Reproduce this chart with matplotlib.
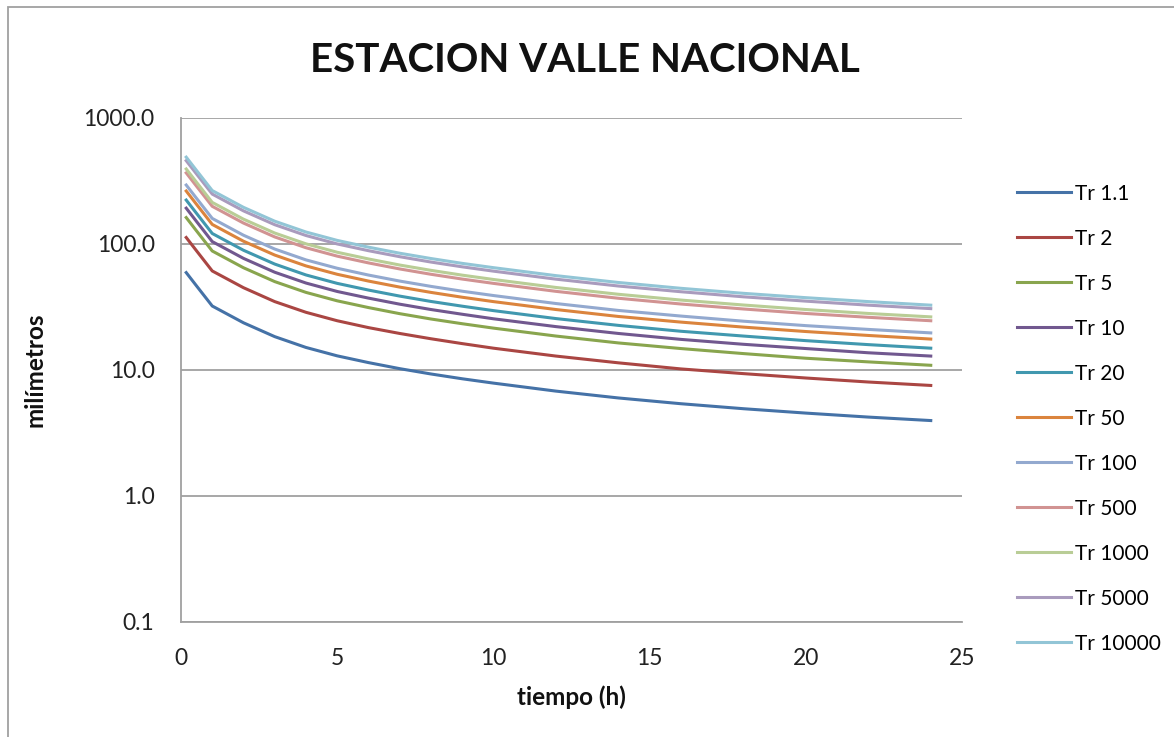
import matplotlib.pyplot as plt
from matplotlib.patches import Rectangle

plt.rcParams['font.family'] = ['Lato', 'DejaVu Sans']

# duracion (h)
tiempo = [0.167, 0.5, 1, 2, 3, 4, 5, 6, 7, 8, 9, 10, 12, 14, 16, 18, 20, 22, 24]

# milimetros por periodo de retorno
tr_1_1 = [59.3, 46.4, 32.2, 23.7, 18.4, 15.1, 12.95, 11.45, 10.25, 9.3,
          8.52, 7.87, 6.8, 6.0, 5.4, 4.93, 4.55, 4.23, 3.97]
tr_2 = [112.6, 88.1, 61.1, 45.0, 34.9, 28.7, 24.6, 21.7, 19.5, 17.7,
        16.2, 14.9, 12.9, 11.4, 10.2, 9.36, 8.64, 8.03, 7.54]
tr_5 = [162.1, 126.8, 88.0, 64.8, 50.3, 41.3, 35.4, 31.3, 28.0, 25.4,
        23.3, 21.5, 18.6, 16.4, 14.8, 13.5, 12.4, 11.6, 10.9]
tr_10 = [192.5, 150.6, 104.5, 76.9, 59.7, 49.0, 42.0, 37.2, 33.3, 30.2,
         27.7, 25.5, 22.1, 19.5, 17.5, 16.0, 14.8, 13.7, 12.9]
tr_20 = [223.2, 174.7, 121.2, 89.2, 69.3, 56.8, 48.7, 43.1, 38.6, 35.0,
         32.1, 29.6, 25.6, 22.6, 20.3, 18.6, 17.1, 15.9, 14.9]
tr_50 = [263.3, 206.0, 143.0, 105.2, 81.7, 67.0, 57.5, 50.8, 45.5, 41.3,
         37.8, 34.9, 30.2, 26.6, 24.0, 21.9, 20.2, 18.8, 17.6]
tr_100 = [293.8, 229.9, 159.6, 117.4, 91.2, 74.8, 64.2, 56.7, 50.8, 46.1,
          42.2, 39.0, 33.7, 29.7, 26.8, 24.4, 22.5, 21.0, 19.7]
tr_500 = [366.7, 286.9, 199.1, 146.6, 113.8, 93.4, 80.1, 70.8, 63.4, 57.5,
          52.7, 48.7, 42.1, 37.1, 33.4, 30.5, 28.1, 26.2, 24.6]
tr_1000 = [393.9, 308.2, 213.9, 157.4, 122.2, 100.3, 86.0, 76.1, 68.1, 61.8,
           56.6, 52.3, 45.2, 39.9, 35.9, 32.8, 30.2, 28.1, 26.4]
tr_5000 = [458.5, 358.8, 249.0, 183.2, 142.3, 116.8, 100.1, 88.5, 79.3, 71.9,
           65.9, 60.9, 52.6, 46.4, 41.8, 38.1, 35.2, 32.7, 30.7]
tr_10000 = [488.9, 382.6, 265.5, 195.4, 151.7, 124.5, 106.8, 94.4, 84.5, 76.7,
            70.2, 64.9, 56.1, 49.5, 44.5, 40.6, 37.5, 34.9, 32.7]

nombres = ['Tr 1.1', 'Tr 2', 'Tr 5', 'Tr 10', 'Tr 20', 'Tr 50', 'Tr 100',
           'Tr 500', 'Tr 1000', 'Tr 5000', 'Tr 10000']
series = [tr_1_1, tr_2, tr_5, tr_10, tr_20, tr_50, tr_100,
          tr_500, tr_1000, tr_5000, tr_10000]
colores = ['#4572A7', '#AA4643', '#89A54E', '#71588F', '#4198AF', '#DB843D',
           '#93A9CF', '#D19392', '#B9CD96', '#A99BBD', '#92C5D6']

fig = plt.figure(figsize=(11.74, 7.37), dpi=100)
W, H = 1174, 737
ax = fig.add_axes([181 / W, 1 - 622 / H, (962 - 181) / W, (622 - 118) / H])

for y, nombre, c in zip(series, nombres, colores):
    ax.plot(tiempo, y, color=c, lw=2.2, label=nombre)

ax.set_yscale('log')
ax.set_ylim(0.1, 1000)
ax.set_xlim(0, 25)
ax.set_yticks([0.1, 1, 10, 100, 1000])
ax.set_yticklabels(['0.1', '1.0', '10.0', '100.0', '1000.0'])
ax.minorticks_off()
ax.set_xticks([0, 5, 10, 15, 20, 25])
ax.tick_params(length=0, labelsize=16.5, colors='#222222')
ax.tick_params(axis='x', pad=19)
ax.tick_params(axis='y', pad=19)

ax.grid(axis='y', color='#A0A0A0', lw=1.3)
ax.set_axisbelow(True)
for s in ['top', 'right']:
    ax.spines[s].set_visible(False)
for s in ['left', 'bottom']:
    ax.spines[s].set_color('#A0A0A0')
    ax.spines[s].set_linewidth(1.3)

fig.text(585 / W, 1 - 60 / H, 'ESTACION VALLE NACIONAL', ha='center', va='center',
         fontsize=29, fontweight='bold', color='#111111')
fig.text(35 / W, 1 - 370 / H, 'milímetros', rotation=90, ha='center', va='center',
         fontsize=17.5, fontweight='bold', color='#111111')
fig.text(571 / W, 1 - 697 / H, 'tiempo (h)', ha='center', va='center',
         fontsize=17.5, fontweight='bold', color='#111111')

ax.legend(loc='upper left', bbox_to_anchor=(998 / W, 1 - 165 / H),
          bbox_transform=fig.transFigure, frameon=False, fontsize=15,
          handlelength=2.6, handletextpad=0.2, labelspacing=1.2)

fig.patches.append(Rectangle((8 / W, -0.1), 1.2, 1 - 7 / H + 0.1,
                             transform=fig.transFigure, fill=False,
                             edgecolor='#A0A0A0', lw=1.3))

fig.savefig('out.png', dpi=100)
